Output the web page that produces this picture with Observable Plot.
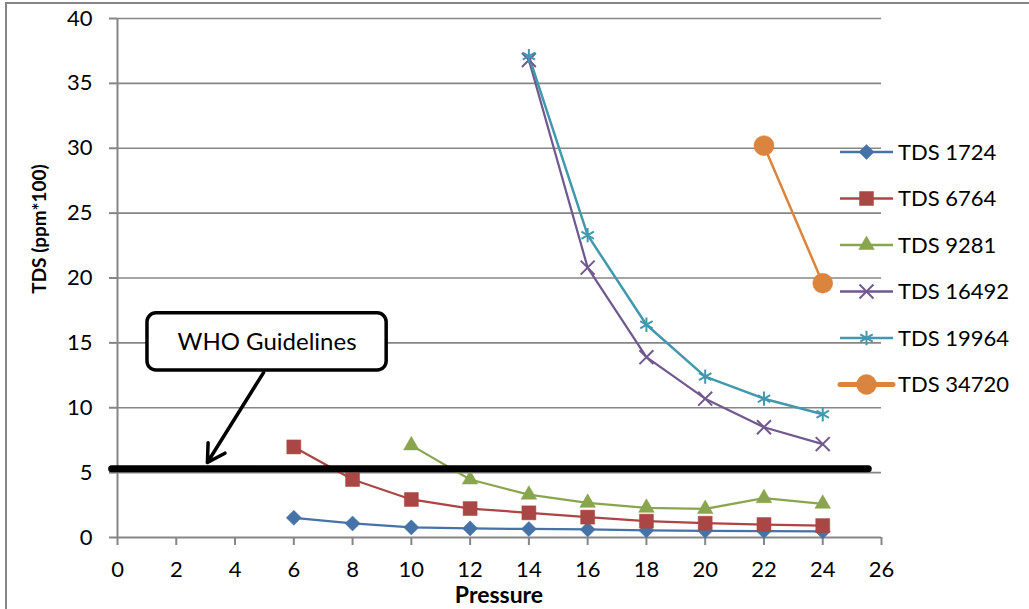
<!DOCTYPE html>
<html><head><meta charset="utf-8">
<script src="https://cdn.jsdelivr.net/npm/d3@7"></script>
<script src="https://cdn.jsdelivr.net/npm/@observablehq/plot@0.6"></script>
<style>
html,body{margin:0;padding:0;background:#fff;}
#chart{position:relative;width:1029px;height:609px;overflow:hidden;background:#fff;}
#chart svg{position:absolute;left:0;top:0;}
</style></head><body><div id="chart"></div>
<script>
// ---- data ----
const pressure = [6, 8, 10, 12, 14, 16, 18, 20, 22, 24];
const seriesNames = ["TDS 1724", "TDS 6764", "TDS 9281", "TDS 16492", "TDS 19964", "TDS 34720"];
const tds1724  = [1.52, 1.08, 0.78, 0.70, 0.66, 0.62, 0.55, 0.52, 0.50, 0.47];
const tds6764  = [6.98, 4.47, 2.93, 2.23, 1.90, 1.57, 1.26, 1.10, 1.00, 0.92];
const tds9281  = [null, null, 7.10, 4.47, 3.30, 2.67, 2.29, 2.20, 3.03, 2.60];
const tds16492 = [null, null, null, null, 36.8, 20.8, 13.9, 10.7, 8.5, 7.2];
const tds19964 = [null, null, null, null, 37.1, 23.3, 16.4, 12.4, 10.7, 9.5];
const tds34720 = [null, null, null, null, null, null, null, null, 30.2, 19.6];
const xTicks = [0, 2, 4, 6, 8, 10, 12, 14, 16, 18, 20, 22, 24, 26];
const yTicks = [0, 5, 10, 15, 20, 25, 30, 35, 40];
const xTitle = "Pressure";
const yTitle = "TDS (ppm*100)";
const whoLevel = 5.3;
const whoLabel = "WHO Guidelines";

// ---- styles ----
const colors  = ["#4572A7", "#AA4643", "#89A54E", "#71588F", "#4198AF", "#DB843D"];
const symbols = ["diamond2", "square", "triangle", "times", "asterisk", "circle"];
const radii   = [6.8, 7.9, 5.8, 6.4, 6.8, 10];
const filled  = [true, true, true, false, false, true];
const lineW   = [2.25, 2.25, 2.25, 2.25, 2.5, 2.5];
const legendLineW = [2.5, 2.5, 2.5, 2.5, 2.5, 5];
const grey = "#868686";
const FONT = "Lato, 'Open Sans', sans-serif";

const allValues = [tds1724, tds6764, tds9281, tds16492, tds19964, tds34720];
const rows = [];
allValues.forEach((vals, i) => vals.forEach((v, j) => {
  if (v != null) rows.push({series: seriesNames[i], idx: i, x: pressure[j], y: v});
}));

// annotation placement (data units)
const box = {x1: 1.02, x2: 9.16, y1: 12.87, y2: 17.28};
const arrow = {x1: 4.97, y1: 12.71, x2: 3.06, y2: 5.78};
const whoSpan = [-0.2, 25.55];

const marks = [
  Plot.ruleY(yTicks.filter(d => d > 0), {stroke: grey, strokeWidth: 1.6}),
  Plot.ruleY([0], {stroke: grey, strokeWidth: 2}),
  Plot.ruleX([0], {stroke: grey, strokeWidth: 2}),
  Plot.axisY({ticks: yTicks, tickSize: 8, tickPadding: 17, stroke: grey, strokeWidth: 2, fill: "black", fontSize: 22, label: null}),
  Plot.axisX({ticks: xTicks, tickSize: 8, tickPadding: 16, stroke: grey, strokeWidth: 2, fill: "black", fontSize: 22, label: null}),
];
seriesNames.forEach((name, i) => {
  const data = rows.filter(d => d.idx === i);
  marks.push(Plot.line(data, {x: "x", y: "y", stroke: colors[i], strokeWidth: lineW[i]}));
});
seriesNames.forEach((name, i) => {
  const data = rows.filter(d => d.idx === i);
  marks.push(Plot.dot(data, {
    x: "x", y: "y", symbol: () => symbols[i], r: radii[i],
    fill: filled[i] ? colors[i] : "none",
    stroke: colors[i], strokeWidth: filled[i] ? 0.5 : 2
  }));
});
marks.push(
  Plot.line([{x: whoSpan[0], y: whoLevel}, {x: whoSpan[1], y: whoLevel}], {x: "x", y: "y", stroke: "black", strokeWidth: 7}),
  Plot.rect([box], {x1: "x1", x2: "x2", y1: "y1", y2: "y2", fill: "white", stroke: "black", strokeWidth: 3.5, rx: 9}),
  Plot.text([box], {x: d => (d.x1 + d.x2) / 2, y: d => (d.y1 + d.y2) / 2, text: () => whoLabel, fontSize: 24, fill: "black"}),
  Plot.arrow([arrow], {x1: "x1", y1: "y1", x2: "x2", y2: "y2", stroke: "black", strokeWidth: 3.5, headLength: 8.5, headAngle: 60})
);

const chart = Plot.plot({
  width: 1029, height: 609,
  marginLeft: 117, marginRight: 148, marginTop: 18, marginBottom: 72,
  x: {domain: [0, 26]},
  y: {domain: [0, 40]},
  style: {fontFamily: FONT, fontSize: "22px", background: "white", overflow: "visible"},
  marks
});

const svg = d3.select(chart);
// outer border
svg.append("rect").attr("x", 6).attr("y", 3).attr("width", 1100).attr("height", 700)
  .attr("fill", "none").attr("stroke", grey).attr("stroke-width", 2);
// axis titles
svg.append("text").text(yTitle)
  .attr("transform", "translate(46,229) rotate(-90)")
  .attr("text-anchor", "middle").attr("font-weight", "bold").attr("font-size", 19)
  .attr("font-family", FONT).attr("fill", "black");
svg.append("text").text(xTitle)
  .attr("x", 499).attr("y", 603)
  .attr("text-anchor", "middle").attr("font-weight", "bold").attr("font-size", 23)
  .attr("font-family", FONT).attr("fill", "black");
// legend
const symMap = {diamond2: d3.symbolDiamond2, square: d3.symbolSquare, triangle: d3.symbolTriangle,
  times: d3.symbolTimes, asterisk: d3.symbolAsterisk, circle: d3.symbolCircle};
const lg = svg.append("g").attr("font-family", FONT).attr("font-size", 22).attr("text-anchor", "start");
seriesNames.forEach((name, i) => {
  const y = 152 + i * 46.5;
  const g = lg.append("g").attr("transform", `translate(0,${y})`);
  g.append("line").attr("x1", 840).attr("x2", 893).attr("y1", 0).attr("y2", 0)
    .attr("stroke", colors[i]).attr("stroke-width", legendLineW[i]).attr("stroke-linecap", i === 5 ? "round" : "butt");
  g.append("path").attr("transform", "translate(866.5,0)")
    .attr("d", d3.symbol(symMap[symbols[i]], Math.PI * radii[i] * radii[i])())
    .attr("fill", filled[i] ? colors[i] : "none").attr("stroke", colors[i])
    .attr("stroke-width", filled[i] ? 0.5 : 2);
  g.append("text").attr("x", 898).attr("dy", "0.36em").attr("fill", "black")
    .attr("text-anchor", "start").text(name);
});

document.getElementById("chart").appendChild(chart);
</script>
</body></html>
